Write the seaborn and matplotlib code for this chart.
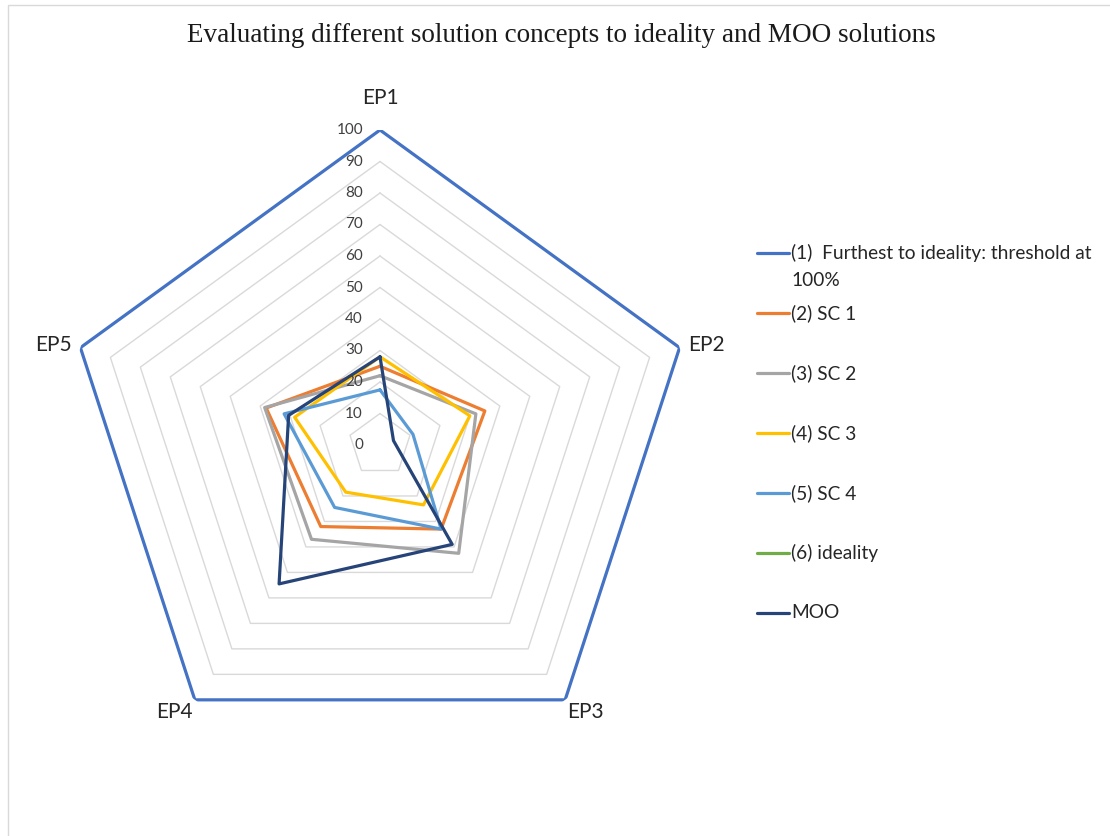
import numpy as np
import pandas as pd
import matplotlib
matplotlib.use('Agg')
import matplotlib.pyplot as plt
import matplotlib.transforms as mtransforms
from matplotlib.lines import Line2D
from matplotlib.patches import Rectangle
import seaborn as sns

# Dados
axes_labels = ['EP1', 'EP2', 'EP3', 'EP4', 'EP5']
series_names = ['(1)  Furthest to ideality: threshold at\n100%', '(2) SC 1', '(3) SC 2',
                '(4) SC 3', '(5) SC 4', '(6) ideality', 'MOO']
threshold = [100, 100, 100, 100, 100]
sc1 = [25, 35, 33, 32, 38]
sc2 = [22, 32, 42.5, 37, 38.5]
sc3 = [28, 30, 23.5, 18.5, 28.5]
sc4 = [17.5, 11, 33, 24.5, 32]
ideality = [0, 0, 0, 0, 0]
moo = [28, 4.5, 39, 54.5, 30.5]
grid_levels = list(range(10, 101, 10))
tick_values = list(range(0, 101, 10))

colors = ['#4472C4', '#ED7D31', '#A5A5A5', '#FFC000', '#5B9BD5', '#70AD47', '#264478']

W, H = 1110, 836
DPI = 100


def build_frame():
    n = len(axes_labels)
    theta = np.linspace(0, 2 * np.pi, n + 1)
    rows = []
    for name, vals in zip(series_names, [threshold, sc1, sc2, sc3, sc4, ideality, moo]):
        closed = list(vals) + [vals[0]]
        for t, v in zip(theta, closed):
            rows.append({'series': name, 'theta': t, 'value': v})
    return pd.DataFrame(rows), theta


def radar(df, theta):
    sns.set_style('white')
    plt.rcParams['font.family'] = ['Lato', 'DejaVu Sans']

    fig = plt.figure(figsize=(W / DPI, H / DPI), dpi=DPI)
    # centro (380, 445) px, raio 315 px
    cx, cy, R = 380, 445, 315
    ax = fig.add_axes([(cx - R) / W, (H - cy - R) / H, 2 * R / W, 2 * R / H],
                      projection='polar')
    ax.set_theta_zero_location('N')
    ax.set_theta_direction(-1)
    ax.set_facecolor('none')

    # Grade pentagonal
    for lv in grid_levels:
        ax.plot(theta, [lv] * len(theta), color='#D9D9D9', lw=1.0, zorder=1)

    # Séries
    sns.lineplot(data=df, x='theta', y='value', hue='series', hue_order=series_names,
                 palette=colors, sort=False, estimator=None, legend=False,
                 linewidth=2.3, ax=ax, zorder=3)

    ax.set_ylim(0, 100)
    ax.grid(False)
    ax.spines['polar'].set_visible(False)
    ax.set_xticks([])
    ax.set_yticks([])
    ax.set_xlabel('')
    ax.set_ylabel('')

    # Rótulos do eixo radial
    off = mtransforms.offset_copy(ax.transData, fig=fig, x=-17, y=0, units='dots')
    for v in tick_values:
        ax.text(0, v, str(v), transform=off, ha='right', va='center',
                fontsize=11, color='#404040')

    # Rótulos das categorias
    place = [(107, 'center', 'bottom'), (103, 'left', 'center'), (101, 'left', 'top'),
             (101, 'right', 'top'), (103, 'right', 'center')]
    for t, lab, (r, ha, va) in zip(theta[:-1], axes_labels, place):
        ax.text(t, r, lab, ha=ha, va=va, fontsize=15, color='#262626')

    # Título
    fig.text(561 / W, 1 - 35 / H, 'Evaluating different solution concepts to ideality and MOO solutions',
             ha='center', va='center', fontsize=19.5, family='Liberation Serif', color='#1a1a1a')

    # Legenda
    for i, (name, c) in enumerate(zip(series_names, colors)):
        y = 253 + 60 * i
        fig.add_artist(Line2D([757 / W, 789 / W], [1 - y / H] * 2, color=c, lw=2.3,
                              transform=fig.transFigure))
        for j, line in enumerate(name.split('\n')):
            fig.text(791 / W, 1 - (y + 27 * j) / H, line, ha='left', va='center',
                     fontsize=13.8, color='#262626')

    # Borda do gráfico
    fig.patches.append(Rectangle((8 / W, -0.1), 1.2, 1.1 - 5 / H, transform=fig.transFigure,
                                 fill=False, edgecolor='#D9D9D9', lw=1.0))

    fig.savefig('out.png', dpi=DPI)


def main():
    df, theta = build_frame()
    radar(df, theta)


if __name__ == '__main__':
    main()
